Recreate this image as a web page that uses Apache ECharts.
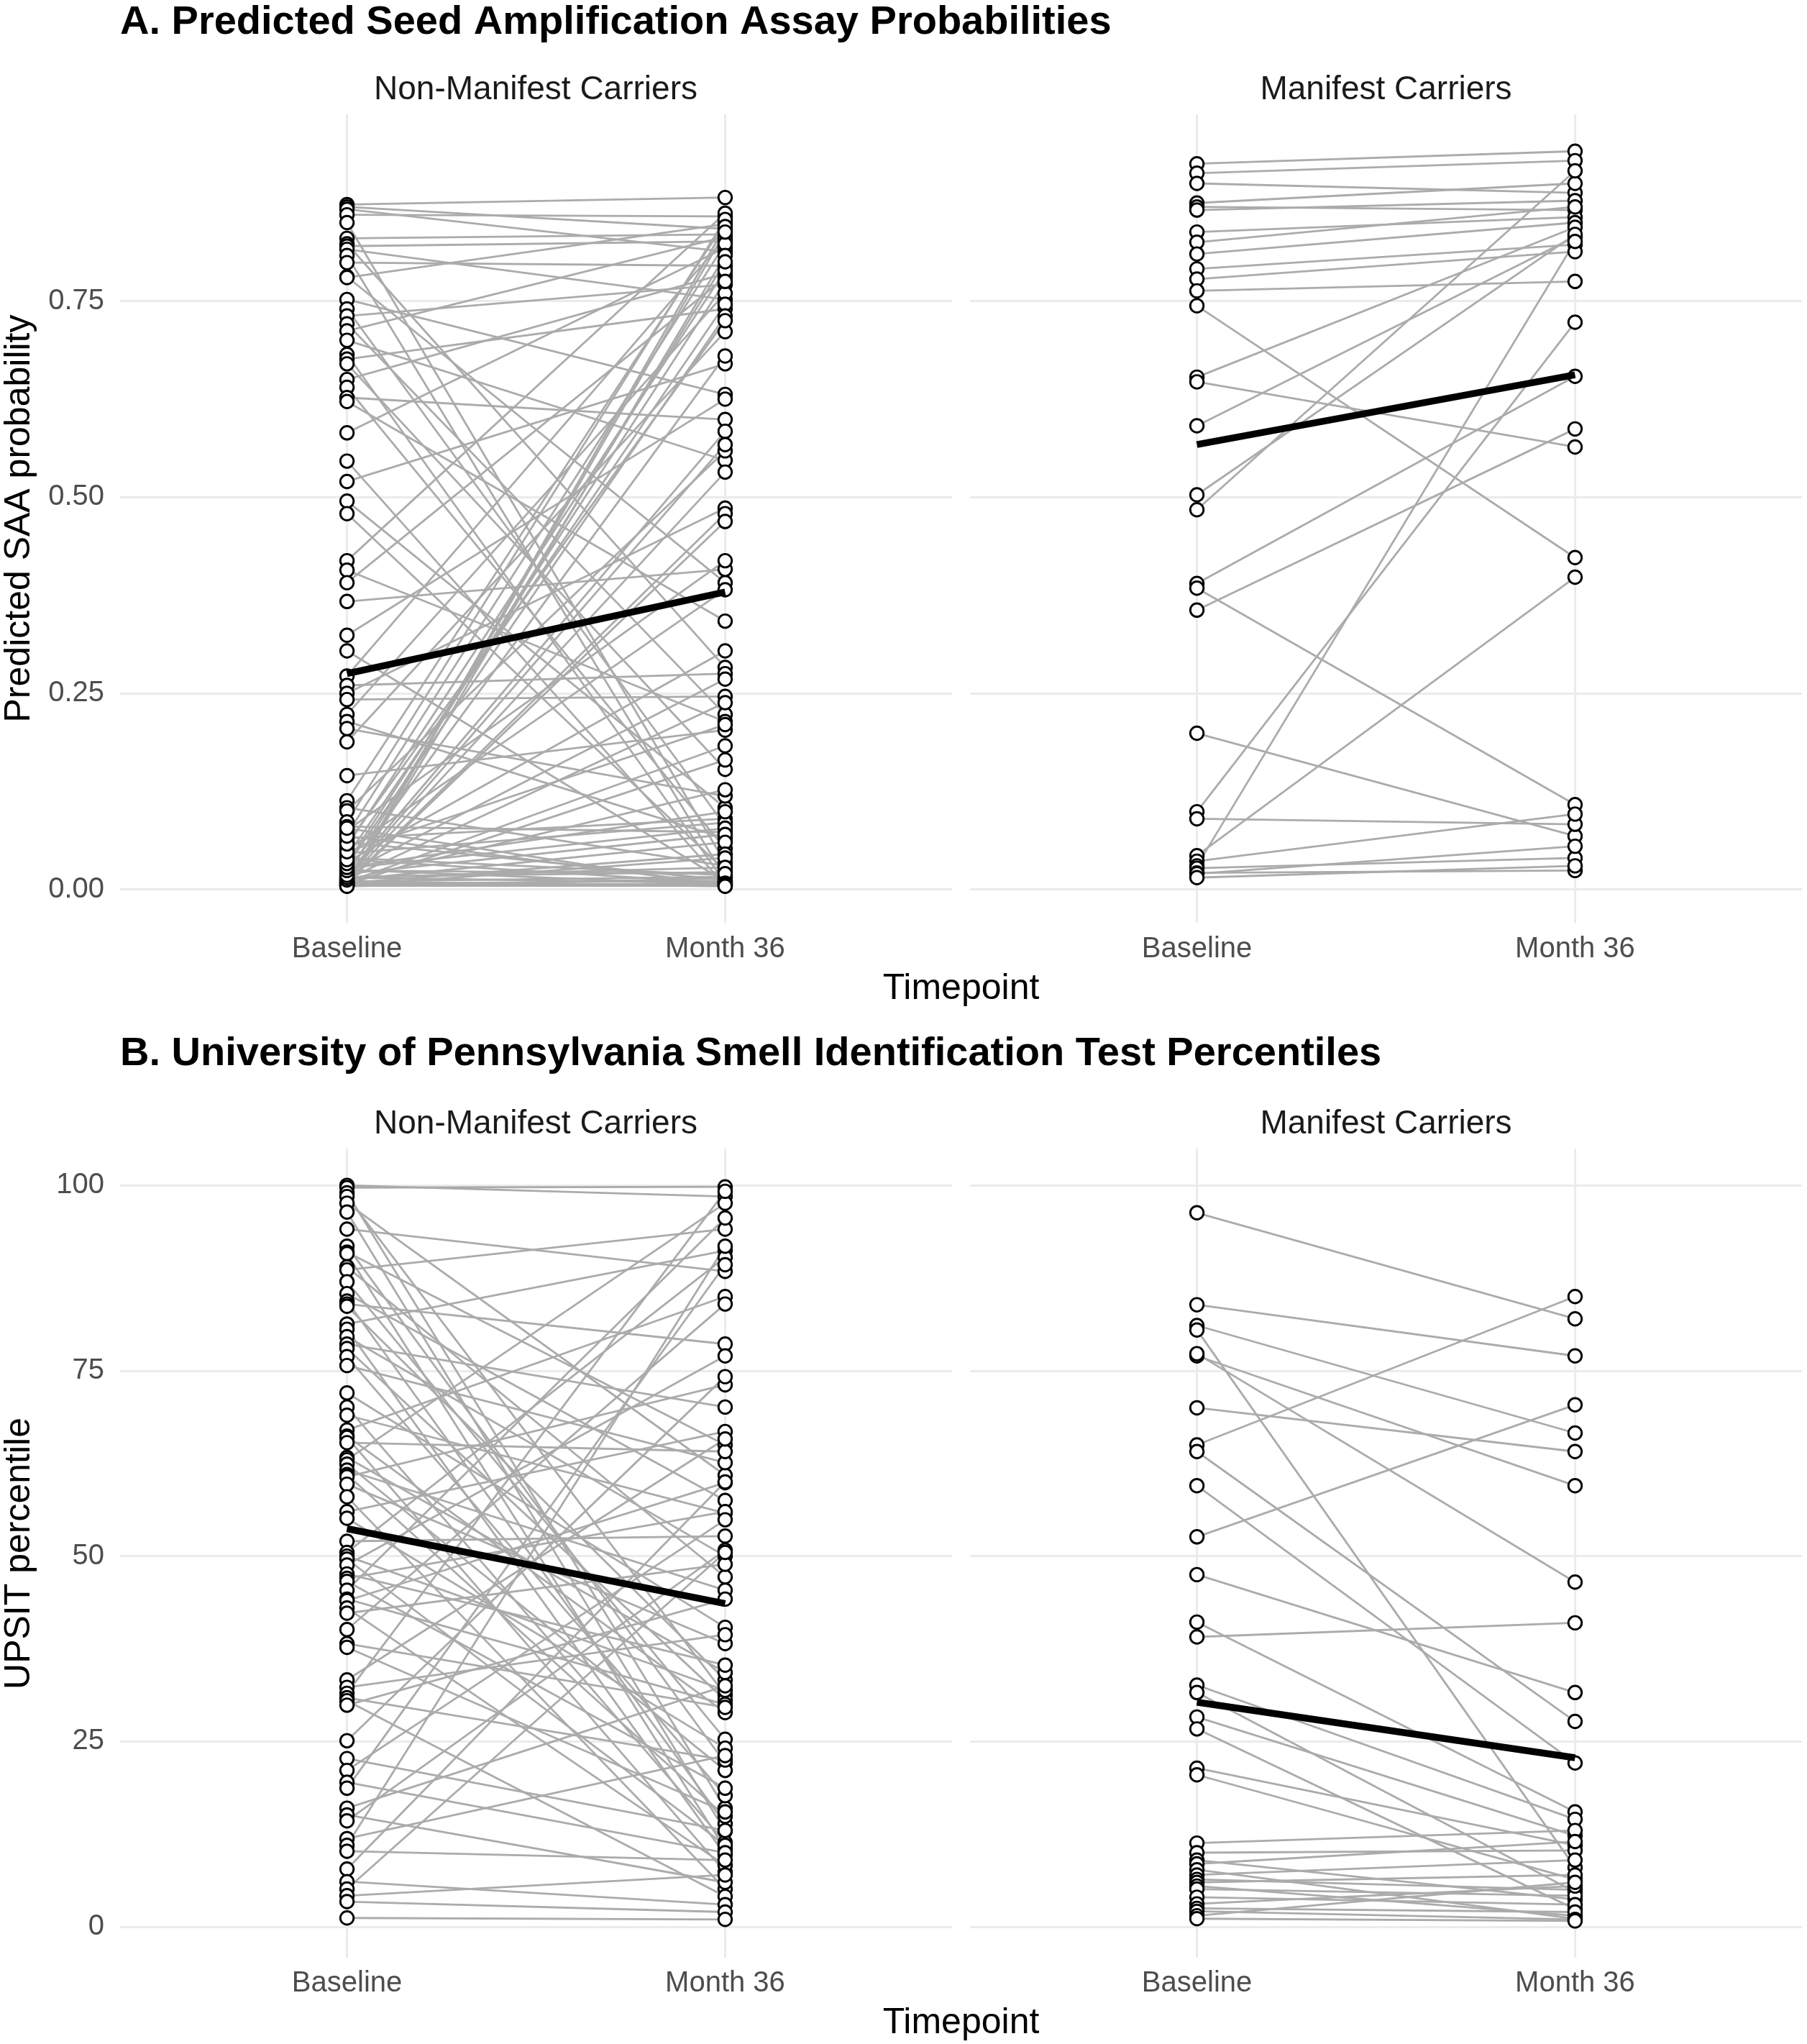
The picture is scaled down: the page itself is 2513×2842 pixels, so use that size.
<!DOCTYPE html>
<html>
<head>
<meta charset="utf-8">
<script src="https://cdn.jsdelivr.net/npm/echarts@6/dist/echarts.min.js"></script>
<style>
  html, body { margin: 0; padding: 0; background: #fff; }
  #chart { width: 2513px; height: 2842px; }
</style>
</head>
<body>
<div id="chart"></div>
<script>
const timepoints = ['Baseline', 'Month 36'];
const groups = ['Non-Manifest Carriers', 'Manifest Carriers'];
const saaTicks = [0, 0.25, 0.5, 0.75];
const upsitTicks = [0, 25, 50, 75, 100];

// A. predicted SAA probability, one entry per participant (baseline / month 36)
const saaNonBase = [
  0.873, 0.870, 0.867, 0.860, 0.850, 0.830, 0.823, 0.820, 0.816, 0.808, 0.799, 0.781, 0.780, 0.752, 0.740, 0.731,
  0.721, 0.712, 0.700, 0.682, 0.676, 0.670, 0.650, 0.640, 0.627, 0.622, 0.582, 0.546, 0.520, 0.495, 0.479,
  0.419, 0.407, 0.391, 0.367, 0.324, 0.304, 0.272, 0.260, 0.250, 0.242, 0.223, 0.214, 0.205, 0.188, 0.145, 0.113, 0.104, 0.100,
  0.086, 0.080, 0.075, 0.070, 0.065, 0.060, 0.055, 0.050, 0.046, 0.042, 0.040, 0.035, 0.030, 0.027, 0.025, 0.022,
  0.021, 0.020, 0.018, 0.016, 0.015, 0.014, 0.013, 0.012, 0.011, 0.010, 0.010, 0.009, 0.009, 0.008, 0.008, 0.007,
  0.007, 0.006, 0.006, 0.005, 0.005, 0.005, 0.004, 0.004, 0.012, 0.015, 0.018, 0.024, 0.028, 0.033, 0.038, 0.048,
  0.058, 0.068, 0.078
];
const saaNonM36 = [
  0.882, 0.842, 0.813, 0.858, 0.034, 0.835, 0.283, 0.826, 0.752, 0.015, 0.795, 0.391, 0.848, 0.631, 0.081, 0.771,
  0.223, 0.832, 0.547, 0.009, 0.740, 0.153, 0.785, 0.052, 0.599, 0.342, 0.818, 0.005, 0.670, 0.104, 0.024,
  0.862, 0.214, 0.780, 0.408, 0.625, 0.010, 0.830, 0.275, 0.486, 0.246, 0.760, 0.065, 0.119, 0.711, 0.203, 0.850, 0.030, 0.559,
  0.854, 0.073, 0.419, 0.823, 0.090, 0.012, 0.789, 0.382, 0.085, 0.746, 0.018, 0.304, 0.731, 0.078, 0.006, 0.680,
  0.268, 0.070, 0.584, 0.022, 0.008, 0.567, 0.238, 0.060, 0.532, 0.004, 0.016, 0.479, 0.183, 0.045, 0.469, 0.007,
  0.011, 0.845, 0.165, 0.040, 0.838, 0.005, 0.014, 0.808, 0.127, 0.028, 0.800, 0.020, 0.099, 0.775, 0.008, 0.210,
  0.725, 0.006, 0.004
];
const saaManBase = [
  0.925, 0.913, 0.900, 0.875, 0.870, 0.866, 0.838, 0.825, 0.810, 0.791, 0.778, 0.763, 0.744, 0.653, 0.647, 0.591,
  0.503, 0.484, 0.390, 0.384, 0.356, 0.199, 0.099, 0.090, 0.043, 0.036, 0.030, 0.027, 0.021, 0.020, 0.015
];
const saaManM36 = [
  0.941, 0.929, 0.888, 0.900, 0.866, 0.878, 0.857, 0.870, 0.850, 0.822, 0.813, 0.775, 0.423, 0.844, 0.564, 0.832,
  0.835, 0.916, 0.654, 0.108, 0.587, 0.068, 0.723, 0.083, 0.398, 0.096, 0.826, 0.040, 0.024, 0.055, 0.030
];
const saaNonMean = [0.275, 0.379];
const saaManMean = [0.567, 0.656];

// B. UPSIT percentile
const upsitNonBase = [
  100.0, 99.7, 99.0, 98.5, 97.6, 96.4, 94.1, 91.8, 91.0, 90.8, 89.0, 88.6, 87.0, 85.4, 84.4, 84.0,
  83.7, 81.3, 80.6, 79.6, 78.6, 78.0, 76.9, 75.7, 72.0, 70.1, 69.0, 67.0, 66.2, 66.0, 65.3, 63.3,
  63.0, 62.4, 61.6, 61.0, 60.7, 59.7, 58.0, 56.0, 55.1, 52.0, 50.5, 50.0, 49.6, 48.8, 47.6, 47.0,
  46.6, 45.4, 44.2, 44.0, 43.0, 42.3, 40.1, 38.2, 37.7, 33.3, 32.3, 31.5, 30.9, 30.5, 29.9, 25.1,
  22.7, 21.1, 19.5, 18.7, 16.0, 15.1, 14.3, 11.9, 11.0, 10.2, 7.8, 6.1, 5.1, 4.2, 3.4, 1.2
];
const upsitNonM36 = [
  98.5, 99.8, 16.0, 31.3, 60.9, 12.9, 88.4, 22.1, 65.0, 10.5, 47.2, 94.1, 25.3, 57.5, 13.9, 78.6,
  33.3, 91.2, 9.7, 50.0, 70.1, 30.6, 17.7, 62.6, 40.4, 11.4, 55.8, 85.0, 28.9, 7.4, 64.1, 34.3,
  97.6, 21.1, 45.4, 14.9, 73.1, 38.2, 5.1, 66.8, 24.1, 52.7, 90.3, 31.9, 11.0, 77.0, 35.3, 56.0,
  18.7, 95.6, 30.0, 59.9, 8.3, 48.9, 84.0, 29.6, 15.5, 65.8, 39.4, 99.2, 22.5, 4.1, 44.2, 74.2,
  13.0, 54.9, 10.0, 89.3, 32.5, 6.0, 50.8, 23.1, 91.8, 9.0, 60.0, 3.0, 50.5, 7.0, 2.0, 1.0
];
const upsitManBase = [
  96.3, 83.9, 81.1, 80.5, 77.0, 77.3, 70.0, 65.0, 64.1, 59.5, 52.6, 47.5, 41.1, 39.1, 32.6, 31.6,
  28.3, 26.7, 21.4, 20.5, 11.3, 10.0, 9.0, 8.5, 7.7, 7.0, 6.4, 6.0, 5.5, 5.1, 4.0, 3.1, 2.5, 2.1, 1.5, 1.1
];
const upsitManM36 = [
  82.0, 77.0, 66.6, 8.0, 59.5, 46.5, 64.1, 85.0, 27.7, 22.1, 70.4, 31.6, 15.5, 41.0, 14.5, 4.7,
  12.3, 2.4, 11.0, 6.4, 13.0, 10.3, 3.7, 11.5, 1.1, 9.0, 5.0, 7.0, 1.5, 4.2, 3.0, 5.5, 2.0, 1.0, 6.0, 0.8
];
const upsitNonMean = [53.7, 43.6];
const upsitManMean = [30.3, 22.8];

const FONT = '"Liberation Sans", Arial, sans-serif';
const panelLeft = [167, 1349];
const panelW = 1157;
const rowTop = [159, 1597];
const rowH = [1124.5, 1125];

const panels = [
  {row: 0, col: 0, base: saaNonBase, m36: saaNonM36, mean: saaNonMean},
  {row: 0, col: 1, base: saaManBase, m36: saaManM36, mean: saaManMean},
  {row: 1, col: 0, base: upsitNonBase, m36: upsitNonM36, mean: upsitNonMean},
  {row: 1, col: 1, base: upsitManBase, m36: upsitManM36, mean: upsitManMean}
];

const grid = [], xAxis = [], yAxis = [], series = [];
panels.forEach((p, i) => {
  grid.push({left: panelLeft[p.col], top: rowTop[p.row], width: panelW, height: rowH[p.row]});
  xAxis.push({
    type: 'value', gridIndex: i, min: -0.6, max: 1.6,
    axisLine: {show: false},
    axisTick: {show: false, customValues: [0, 1]},
    axisLabel: {
      customValues: [0, 1], margin: 16, fontSize: 40, color: '#4D4D4D', fontFamily: FONT,
      formatter: v => timepoints[Math.round(v)]
    },
    splitLine: {show: true, lineStyle: {color: '#EBEBEB', width: 3}}
  });
  const ticks = p.row === 0 ? saaTicks : upsitTicks;
  yAxis.push({
    type: 'value', gridIndex: i,
    min: p.row === 0 ? -0.043 : -4.16,
    max: p.row === 0 ? 0.988 : 104.96,
    axisLine: {show: false},
    axisTick: {show: false, customValues: ticks},
    axisLabel: {
      show: p.col === 0, customValues: ticks, margin: 22, fontSize: 40, color: '#4D4D4D', fontFamily: FONT,
      formatter: v => p.row === 0 ? v.toFixed(2) : String(Math.round(v))
    },
    splitLine: {show: true, lineStyle: {color: '#EBEBEB', width: 3}}
  });
  const n = Math.min(p.base.length, p.m36.length);
  const pairs = [], pts = [];
  for (let k = 0; k < n; k++) {
    pairs.push({coords: [[0, p.base[k]], [1, p.m36[k]]]});
    pts.push([0, p.base[k]], [1, p.m36[k]]);
  }
  series.push({
    type: 'lines', coordinateSystem: 'cartesian2d', xAxisIndex: i, yAxisIndex: i,
    data: pairs, silent: true, z: 2,
    lineStyle: {color: '#ABABAB', width: 2.8, opacity: 1, curveness: 0}
  });
  series.push({
    type: 'scatter', xAxisIndex: i, yAxisIndex: i, data: pts, z: 3, silent: true,
    symbol: 'circle', symbolSize: 18.5,
    itemStyle: {color: '#FFFFFF', borderColor: '#000000', borderWidth: 2.9, opacity: 1}
  });
  series.push({
    type: 'line', xAxisIndex: i, yAxisIndex: i, z: 4, silent: true,
    data: [[0, p.mean[0]], [1, p.mean[1]]],
    symbol: 'none', lineStyle: {color: '#000000', width: 9.5}
  });
});

const txt = (x, y, text, font, fill, align, extra) => Object.assign({
  type: 'text', x: x, y: y, silent: true,
  style: {text: text, font: font, fill: fill, align: align, verticalAlign: 'middle',
          textAlign: align, textVerticalAlign: 'middle'}
}, extra || {});

const titleFont = 'bold 56px ' + FONT;
const stripFont = '46px ' + FONT;
const axisTitleFont = '50px ' + FONT;
const graphic = [
  txt(167, 32, 'A. Predicted Seed Amplification Assay Probabilities', titleFont, '#000', 'left'),
  txt(167, 1466, 'B. University of Pennsylvania Smell Identification Test Percentiles', titleFont, '#000', 'left'),
  txt(745, 125, groups[0], stripFont, '#1A1A1A', 'center'),
  txt(1927.5, 125, groups[1], stripFont, '#1A1A1A', 'center'),
  txt(745, 1563, groups[0], stripFont, '#1A1A1A', 'center'),
  txt(1927.5, 1563, groups[1], stripFont, '#1A1A1A', 'center'),
  txt(1336.5, 1375, 'Timepoint', axisTitleFont, '#000', 'center'),
  txt(1336.5, 2813, 'Timepoint', axisTitleFont, '#000', 'center'),
  txt(27, 721, 'Predicted SAA probability', axisTitleFont, '#000', 'center', {rotation: Math.PI / 2}),
  txt(27, 2160, 'UPSIT percentile', axisTitleFont, '#000', 'center', {rotation: Math.PI / 2})
];

const chart = echarts.init(document.getElementById('chart'));
chart.setOption({
  backgroundColor: '#FFFFFF',
  animation: false,
  textStyle: {fontFamily: FONT},
  grid: grid,
  xAxis: xAxis,
  yAxis: yAxis,
  series: series,
  graphic: graphic
});
window.addEventListener('resize', function () { chart.resize(); });
</script>
</body>
</html>
